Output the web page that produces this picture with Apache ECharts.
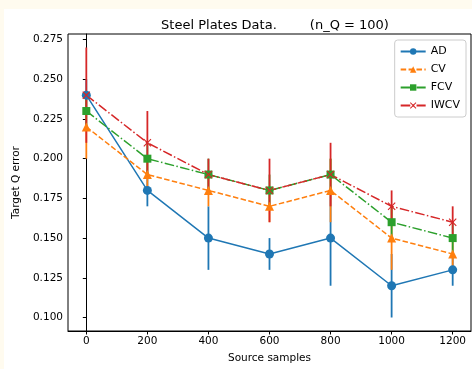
<!DOCTYPE html>
<html>
<head>
<meta charset="utf-8">
<script src="https://cdn.jsdelivr.net/npm/echarts@6/dist/echarts.min.js"></script>
<style>
  html, body { margin: 0; padding: 0; background: #fffbef; overflow: hidden; width: 472px; height: 369px; }
  #wrap { position: absolute; left: 4px; top: 9px; right: 0; bottom: 0; background: #fff; }
  #chart { position: absolute; left: -4px; top: -9px; width: 472px; height: 369px; }
</style>
</head>
<body>
<div id="wrap"><div id="chart"></div></div>
<script>
// source sample sizes
const sourceSamples = [0, 200, 400, 600, 800, 1000, 1200];

// mean target Q error and error bar half-widths
const adValues = [0.24, 0.18, 0.15, 0.14, 0.15, 0.12, 0.13];
const adErr = [0.01, 0.01, 0.02, 0.01, 0.03, 0.02, 0.01];
const cvValues = [0.22, 0.19, 0.18, 0.17, 0.18, 0.15, 0.14];
const cvErr = [0.02, 0.01, 0.01, 0.01, 0.02, 0.02, 0.01];
const fcvValues = [0.23, 0.20, 0.19, 0.18, 0.19, 0.16, 0.15];
const fcvErr = [0.01, 0.01, 0.01, 0.01, 0.01, 0.01, 0.01];
const iwcvValues = [0.24, 0.21, 0.19, 0.18, 0.19, 0.17, 0.16];
const iwcvErr = [0.03, 0.02, 0.01, 0.02, 0.02, 0.01, 0.01];

const xTicks = [0, 200, 400, 600, 800, 1000, 1200];
const yTicks = [0.100, 0.125, 0.150, 0.175, 0.200, 0.225, 0.250, 0.275];

const chart = echarts.init(document.getElementById('chart'), null, { renderer: 'canvas' });

const crossPath = 'path://M1,0L5,4L9,0L10,1L6,5L10,9L9,10L5,6L1,10L0,9L4,5L0,1Z';

const methods = [
    { name: 'AD', values: adValues, err: adErr, color: '#1f77b4', dash: 'solid', symbol: 'circle', size: 9 },
    { name: 'CV', values: cvValues, err: cvErr, color: '#ff7f0e', dash: [5.5, 2.4], symbol: 'triangle', size: 9 },
    { name: 'FCV', values: fcvValues, err: fcvErr, color: '#2ca02c', dash: [9.6, 2.4, 1.5, 2.4], symbol: 'rect', size: 8 },
    { name: 'IWCV', values: iwcvValues, err: iwcvErr, color: '#d62728', dash: [9.6, 2.4, 1.5, 2.4], symbol: crossPath, size: 8 }
];

const series = [];
methods.forEach(m => {
    // error bars first, then the line on top of them
    series.push({
        name: m.name + '_err',
        type: 'custom',
        data: sourceSamples.map((x, i) => [x, m.values[i] - m.err[i], m.values[i] + m.err[i]]),
        renderItem: function (params, api) {
            const p1 = api.coord([api.value(0), api.value(1)]);
            const p2 = api.coord([api.value(0), api.value(2)]);
            return {
                type: 'line',
                shape: { x1: p1[0], y1: p1[1], x2: p2[0], y2: p2[1] },
                style: { stroke: m.color, lineWidth: 1.8 }
            };
        },
        silent: true
    });
    series.push({
        name: m.name,
        type: 'line',
        data: sourceSamples.map((x, i) => [x, m.values[i]]),
        symbol: m.symbol,
        symbolSize: m.size,
        showAllSymbol: true,
        itemStyle: { color: m.color },
        lineStyle: { color: m.color, width: 1.5, type: m.dash },
        animation: false
    });
});

const option = {
    animation: false,
    title: {
        text: 'Steel Plates Data.        (n_Q = 100)',
        left: 270,
        top: 14,
        textAlign: 'center',
        textStyle: { fontFamily: 'DejaVu Sans', fontSize: 13, fontWeight: 'normal', color: '#000' }
    },
    legend: {
        data: methods.map(m => m.name),
        orient: 'vertical',
        right: 6,
        top: 40,
        itemWidth: 25,
        itemHeight: 8,
        itemGap: 7,
        padding: [6, 6, 6, 5],
        borderColor: '#cccccc',
        borderWidth: 1,
        borderRadius: 3,
        backgroundColor: 'rgba(255,255,255,0.8)',
        textStyle: { fontFamily: 'DejaVu Sans', fontSize: 11, color: '#000' }
    },
    grid: {
        left: 68, right: 1, top: 34, bottom: 35,
        show: true, borderColor: '#000', borderWidth: 1, backgroundColor: 'transparent'
    },
    xAxis: {
        type: 'value',
        min: -60,
        max: 1260,
        name: 'Source samples',
        nameLocation: 'middle',
        nameGap: 22,
        nameTextStyle: { fontFamily: 'DejaVu Sans', fontSize: 10.5, color: '#000' },
        axisLine: { show: true, lineStyle: { color: '#000' } },
        axisTick: { show: true, length: 3.5, lineStyle: { color: '#000' }, customValues: xTicks },
        axisLabel: {
            customValues: xTicks,
            formatter: v => String(v),
            fontFamily: 'DejaVu Sans', fontSize: 10.5, color: '#000', margin: 5
        },
        splitLine: { show: false }
    },
    yAxis: {
        type: 'value',
        min: 0.0915,
        max: 0.2785,
        name: 'Target Q error',
        nameLocation: 'middle',
        nameGap: 46,
        nameTextStyle: { fontFamily: 'DejaVu Sans', fontSize: 10.5, color: '#000' },
        axisLine: { show: true, lineStyle: { color: '#000' } },
        axisTick: { show: true, length: 3.5, lineStyle: { color: '#000' }, customValues: yTicks },
        axisLabel: {
            customValues: yTicks,
            formatter: v => v.toFixed(3),
            fontFamily: 'DejaVu Sans', fontSize: 10.5, color: '#000', margin: 5
        },
        splitLine: { show: false }
    },
    series: series
};

chart.setOption(option);
</script>
</body>
</html>
